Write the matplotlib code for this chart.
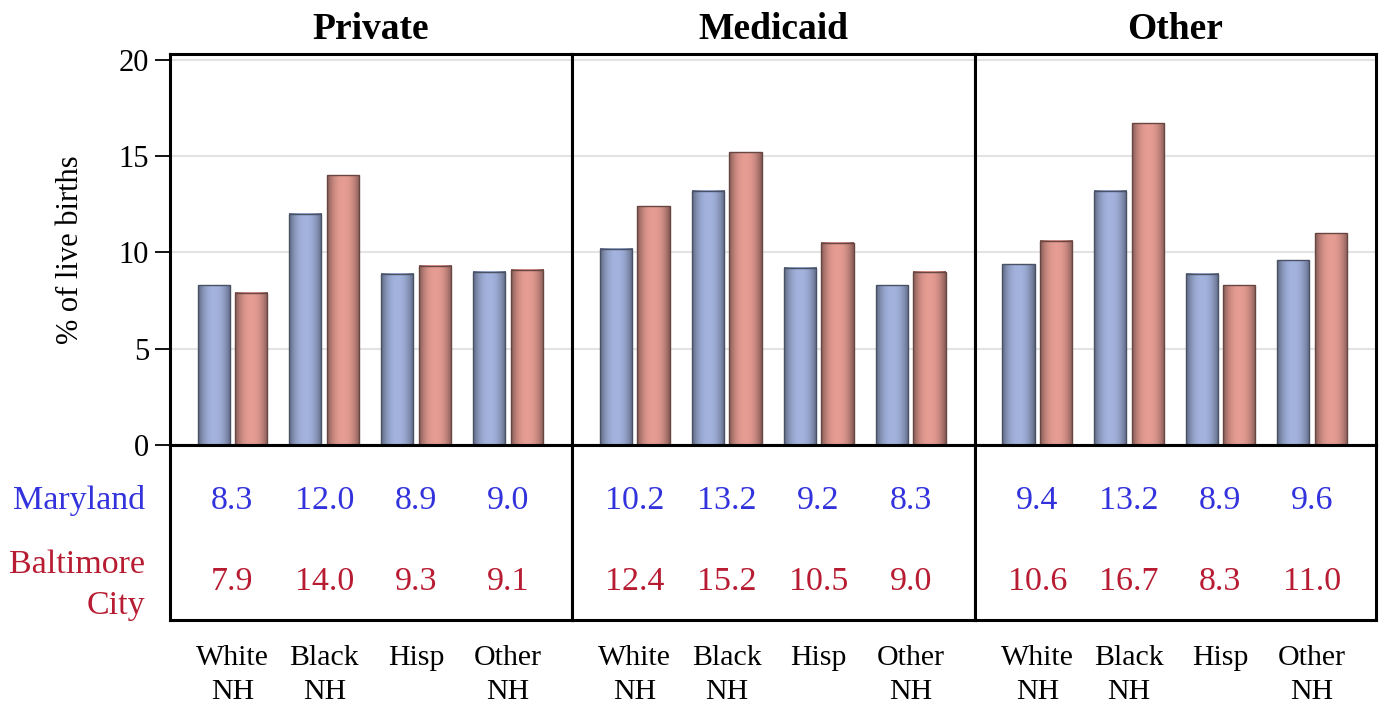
import numpy as np
import matplotlib.pyplot as plt
from matplotlib.colors import to_rgb

plt.rcParams['font.family'] = ['Liberation Serif', 'DejaVu Serif']

PANELS = ['Private', 'Medicaid', 'Other']
GROUPS = ['White\nNH', 'Black\nNH', 'Hisp', 'Other\nNH']
MARYLAND = {
    'Private': [8.3, 12.0, 8.9, 9.0],
    'Medicaid': [10.2, 13.2, 9.2, 8.3],
    'Other': [9.4, 13.2, 8.9, 9.6],
}
BALTIMORE = {
    'Private': [7.9, 14.0, 9.3, 9.1],
    'Medicaid': [12.4, 15.2, 10.5, 9.0],
    'Other': [10.6, 16.7, 8.3, 11.0],
}
Y_TICKS = [0, 5, 10, 15, 20]

BLUE_FACE = '#a3b3de'
RED_FACE = '#e69d93'
BLUE_TEXT = '#3333dd'
RED_TEXT = '#b81c32'

W = 1386
H = 707
X_EDGES = [170, 572, 975, 1376]
TOP, ZERO, TABLE_BOTTOM = 54, 445, 620


def shaded_bar(ax, x0, width, height, color):
    # horizontal shading: darker at both edges, lighter in the middle
    base = np.array(to_rgb(color))
    t = np.linspace(-1, 1, 64)
    shade = 1 - 0.42 * np.abs(t) ** 2.2
    img = base[None, :] * shade[:, None]
    img = np.clip(img, 0, 1)[None, :, :]
    ax.imshow(img, extent=(x0, x0 + width, 0, height), aspect='auto',
              interpolation='bilinear', zorder=2)
    dark = base * 0.45
    ax.add_patch(plt.Rectangle((x0, 0), width, height, fill=False,
                               edgecolor=dark, lw=1.0, zorder=3))


def main():
    fig = plt.figure(figsize=(W / 100, H / 100), dpi=100)

    bw = 0.35
    off = 0.205
    xs = np.arange(len(GROUPS))
    for i, name in enumerate(PANELS):
        left = X_EDGES[i] / W
        width = (X_EDGES[i + 1] - X_EDGES[i]) / W
        ax = fig.add_axes([left, 1 - ZERO / H, width, (ZERO - TOP) / H])
        tab = fig.add_axes([left, 1 - TABLE_BOTTOM / H, width, (TABLE_BOTTOM - ZERO) / H])

        for x, v in zip(xs, MARYLAND[name]):
            shaded_bar(ax, x - off - bw / 2, bw, v, BLUE_FACE)
        for x, v in zip(xs, BALTIMORE[name]):
            shaded_bar(ax, x + off - bw / 2, bw, v, RED_FACE)

        ax.set_xlim(-0.68, 3.7)
        ax.set_ylim(0, 20.31)
        ax.set_yticks(Y_TICKS)
        for y in Y_TICKS[1:]:
            ax.axhline(y, color='#e3e3e3', lw=1.5, zorder=1)
        ax.set_xticks([])
        for s in ax.spines.values():
            s.set_linewidth(2.2)
        ax.set_title(name, fontsize=27, fontweight='bold', pad=11)
        if i == 0:
            ax.tick_params(axis='y', labelsize=22, length=11, width=1.3, pad=4)
            ax.set_ylabel('% of live births', fontsize=22, labelpad=24)
        else:
            ax.tick_params(axis='y', left=False, labelleft=False)

        tab.set_xlim(-0.68, 3.7)
        tab.set_ylim(0, 1)
        tab.set_xticks([])
        tab.set_yticks([])
        for s in tab.spines.values():
            s.set_linewidth(2.2)
        for x, v in zip(xs, MARYLAND[name]):
            tab.text(x, 0.68, f'{v:.1f}', color=BLUE_TEXT, fontsize=24.5,
                     ha='center', va='center')
        for x, v in zip(xs, BALTIMORE[name]):
            tab.text(x, 0.22, f'{v:.1f}', color=RED_TEXT, fontsize=24.5,
                     ha='center', va='center')
        for x, g in zip(xs, GROUPS):
            tab.text(x, -0.145, g, fontsize=21.5, ha='center', va='top',
                     linespacing=1.38, clip_on=False)

        if i == 0:
            tab.text(-0.95, 0.68, 'Maryland', color=BLUE_TEXT, fontsize=24.5,
                     ha='right', va='center', clip_on=False)
            tab.text(-0.95, 0.2, 'Baltimore\nCity', color=RED_TEXT, fontsize=24.5,
                     ha='right', va='center', linespacing=1.45, clip_on=False)

    fig.savefig('out.png', dpi=100)


if __name__ == '__main__':
    main()
